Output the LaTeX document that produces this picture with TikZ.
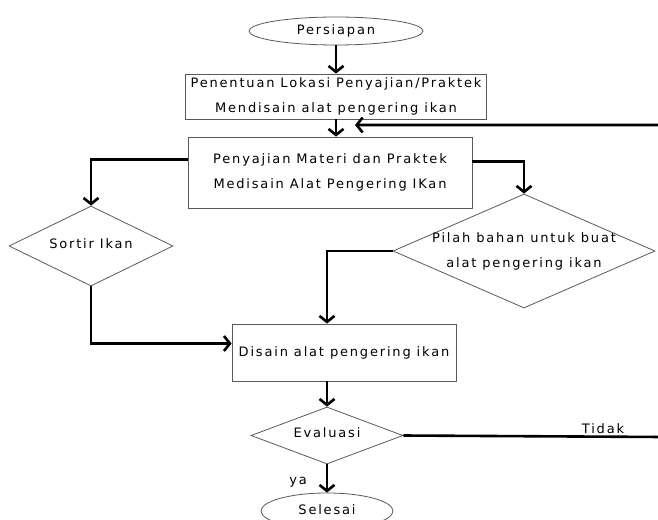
\documentclass[tikz,border=0pt]{standalone}
\usepackage{fontspec}
\newfontfamily\flowfont[LetterSpace=14]{DejaVu Sans}
\usepackage{tikz}
\usetikzlibrary{arrows.meta,shapes.geometric}

\begin{document}
\begin{tikzpicture}[x=1pt, y=-1pt,
  procbox/.style={rectangle, draw=black!65, line width=0.8pt, align=center,
    font=\flowfont\fontsize{13}{25}\selectfont, inner sep=2pt},
  decide/.style={diamond, draw=black!65, line width=0.8pt, align=center,
    font=\flowfont\fontsize{13}{25}\selectfont, inner sep=0pt},
  terminal/.style={ellipse, draw=black!65, line width=0.8pt,
    font=\flowfont\fontsize{13}{14}\selectfont, inner sep=0pt},
  lbl/.style={font=\flowfont\fontsize{13}{14}\selectfont, inner sep=0pt},
  arr/.style={-{Straight Barb[length=6pt, width=15pt, line width=2.6pt]}, line width=2.6pt, draw=black}
]
\useasboundingbox (0,0) rectangle (658,519);

\node[terminal, minimum width=174pt, minimum height=28pt] (start) at (336,31) {Persiapan};
\node[procbox, minimum width=301pt, minimum height=45pt] (lok) at (336,96.5)
  {Penentuan Lokasi Penyajian/Praktek\\Mendisain alat pengering ikan};
\node[procbox, minimum width=284pt, minimum height=71pt] (saji) at (330,172.5)
  {Penyajian Materi dan Praktek\\Medisain Alat Pengering IKan};
\node[decide, aspect=2.05, minimum width=164pt, minimum height=80pt] (sortir) at (91,246) {\raisebox{5pt}{Sortir Ikan}};
\node[decide, aspect=2.3, minimum width=262pt, minimum height=114pt, inner sep=-4pt] (pilah) at (524,251)
  {Pilah bahan untuk buat\\alat pengering ikan};
\node[procbox, minimum width=224pt, minimum height=57pt] (disain) at (344,352.5) {Disain alat pengering ikan};
\node[decide, aspect=2.67, minimum width=152pt, minimum height=57pt] (eval) at (327,435.5) {\raisebox{6pt}{Evaluasi}};
\node[terminal, minimum width=132pt, minimum height=36pt] (selesai) at (327,511) {\raisebox{2pt}{Selesai}};

\node[lbl] (ya) at (298,482) {ya};
\node[lbl] (tidak) at (603,429) {Tidak};

\coordinate (loopin) at (355,125);
\coordinate (rtbot) at (663,437);
\coordinate (rttop) at (663,125);

\draw[arr] (start.south -| lok.north) -- (lok.north);
\draw[arr] (lok.south) -- (lok.south |- saji.north);
\draw[arr] ([yshift=13pt]saji.west) -| (sortir.north);
\draw[arr] ([yshift=11pt]saji.east) -| (pilah.north);
\draw[arr] (pilah.west) -| (eval.north |- disain.north);
\draw[arr] (sortir.south) |- ([yshift=9pt]disain.west);
\draw[arr] (eval.north |- disain.south) -- (eval.north);
\draw[arr] (eval.south) -- (selesai.north);
\draw[arr] (eval.east) -- (rtbot) -- (rttop) -- (loopin);

\end{tikzpicture}
\end{document}
